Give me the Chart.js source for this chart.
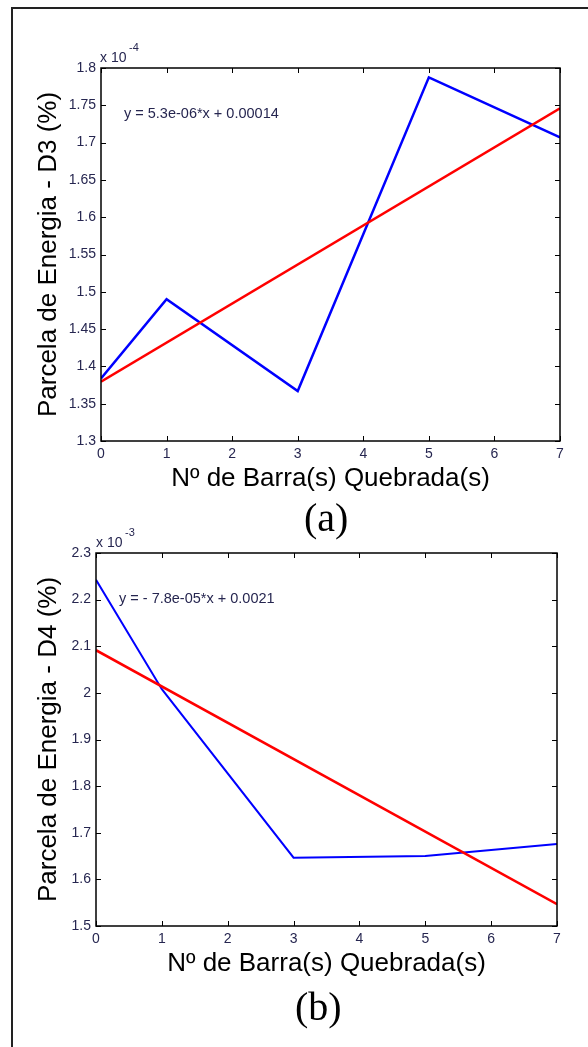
<!DOCTYPE html>
<html>
<head>
<meta charset="utf-8">
<script src="https://cdn.jsdelivr.net/npm/chart.js@4"></script>
<style>
  body { margin: 0; background: #fff; width: 588px; height: 1047px; overflow: hidden; position: relative; }
  canvas { position: absolute; left: 0; }
  .frame { position: absolute; left: 11px; top: 7px; width: 700px; height: 1100px;
           border-left: 2px solid #222; border-top: 2px solid #222; }
  .txt { position: absolute; font-family: "Liberation Sans", Arial, sans-serif; color: #262650; line-height: 1; white-space: nowrap; }
  .cap { position: absolute; font-family: "Liberation Serif", "Times New Roman", serif; font-size: 40px; line-height: 1; color: #000; }
</style>
</head>
<body>
<div class="frame"></div>
<canvas id="chartA" width="588" height="500" style="top:0"></canvas>
<canvas id="chartB" width="588" height="500" style="top:490px"></canvas>

<div class="txt" style="left:100px; top:50px; font-size:14px">x 10</div>
<div class="txt" style="left:129px; top:42px; font-size:11px">-4</div>
<div class="txt" style="left:124px; top:106px; font-size:14.5px">y = 5.3e-06*x + 0.00014</div>
<div class="cap" style="left:304px; top:498px">(a)</div>

<div class="txt" style="left:96px; top:535px; font-size:14px">x 10</div>
<div class="txt" style="left:125px; top:527px; font-size:11px">-3</div>
<div class="txt" style="left:119px; top:591px; font-size:14.5px">y = - 7.8e-05*x + 0.0021</div>
<div class="cap" style="left:295px; top:987px">(b)</div>

<script>
// x positions (number of broken bars)
const barras = [0, 1, 3, 5, 7];
const xTicks = [0, 1, 2, 3, 4, 5, 6, 7];

// (a) D3 energy share, x 10^-4
const d3Values = [1.384, 1.490, 1.367, 1.7875, 1.707];
const d3FitX = [0, 7];
const d3FitY = [1.3795, 1.746];
const yTicksA = [1.3, 1.35, 1.4, 1.45, 1.5, 1.55, 1.6, 1.65, 1.7, 1.75, 1.8];

// (b) D4 energy share, x 10^-3
const d4Values = [2.2425, 2.008, 1.6466, 1.650, 1.676];
const d4FitX = [0, 7];
const d4FitY = [2.0915, 1.5466];
const yTicksB = [1.5, 1.6, 1.7, 1.8, 1.9, 2, 2.1, 2.2, 2.3];

const tickColor = '#262650';
const fontFamily = '"Liberation Sans", Arial, sans-serif';

const toPoints = (xs, ys) => xs.map((x, i) => ({ x: x, y: ys[i] }));

// matlab style box with inward ticks on all 4 sides
const boxTicks = {
  id: 'boxTicks',
  afterDraw(chart) {
    const ctx = chart.ctx;
    const a = chart.chartArea;
    const xs = chart.scales.x, ys = chart.scales.y;
    const len = 5;
    ctx.save();
    ctx.strokeStyle = '#000';
    ctx.lineWidth = 1;
    ctx.beginPath();
    xs.ticks.forEach(t => {
      const px = Math.round(xs.getPixelForValue(t.value)) + 0.5;
      ctx.moveTo(px, a.bottom); ctx.lineTo(px, a.bottom - len);
      ctx.moveTo(px, a.top); ctx.lineTo(px, a.top + len);
    });
    ys.ticks.forEach(t => {
      const py = Math.round(ys.getPixelForValue(t.value)) + 0.5;
      ctx.moveTo(a.left, py); ctx.lineTo(a.left + len, py);
      ctx.moveTo(a.right, py); ctx.lineTo(a.right - len, py);
    });
    ctx.stroke();
    ctx.lineWidth = 1.5;
    ctx.strokeRect(a.left, a.top, a.right - a.left, a.bottom - a.top);
    ctx.restore();
  }
};

function makeChart(id, vals, fitX, fitY, yTicks, yLabel, opts) {
  return new Chart(document.getElementById(id), {
    type: 'line',
    data: {
      datasets: [
        {
          data: toPoints(fitX, fitY),
          borderColor: '#ff0000',
          borderWidth: 2.5,
          pointRadius: 0,
          tension: 0
        },
        {
          data: toPoints(barras, vals),
          borderColor: '#0000ff',
          borderWidth: opts.blueWidth,
          pointRadius: 0,
          tension: 0
        }
      ]
    },
    options: {
      responsive: false,
      animation: false,
      devicePixelRatio: 1,
      layout: { padding: opts.padding },
      plugins: { legend: { display: false }, tooltip: { enabled: false } },
      scales: {
        x: {
          type: 'linear',
          min: 0, max: 7,
          afterBuildTicks: s => { s.ticks = xTicks.map(v => ({ value: v })); },
          afterFit: s => { s.height = opts.xHeight; },
          grid: { display: false, drawTicks: false },
          border: { display: false },
          ticks: {
            padding: 5,
            color: tickColor,
            maxRotation: 0,
            font: { family: fontFamily, size: 14 },
            callback: v => String(v)
          },
          title: {
            display: true,
            text: 'Nº de Barra(s) Quebrada(s)',
            color: '#000',
            font: { family: fontFamily, size: 26 },
            padding: { top: 0, bottom: opts.xTitlePad }
          }
        },
        y: {
          type: 'linear',
          min: yTicks[0], max: yTicks[yTicks.length - 1],
          afterBuildTicks: s => { s.ticks = yTicks.map(v => ({ value: v })); },
          afterFit: s => { s.width = opts.yWidth; },
          grid: { display: false, drawTicks: false },
          border: { display: false },
          ticks: {
            padding: 5,
            color: tickColor,
            font: { family: fontFamily, size: 14 },
            callback: v => String(v)
          },
          title: {
            display: true,
            text: yLabel,
            color: '#000',
            font: { family: fontFamily, size: 26 },
            padding: { top: 33, bottom: 0 }
          }
        }
      }
    },
    plugins: [boxTicks]
  });
}

makeChart('chartA', d3Values, d3FitX, d3FitY, yTicksA, 'Parcela de Energia - D3 (%)', {
  padding: { left: 0, right: 28, top: 68, bottom: 0 },
  yWidth: 101, xHeight: 59, xTitlePad: 6, blueWidth: 2.5
});

makeChart('chartB', d4Values, d4FitX, d4FitY, yTicksB, 'Parcela de Energia - D4 (%)', {
  padding: { left: 0, right: 31, top: 63, bottom: 0 },
  yWidth: 96, xHeight: 64, xTitlePad: 11, blueWidth: 2
});
</script>
</body>
</html>
